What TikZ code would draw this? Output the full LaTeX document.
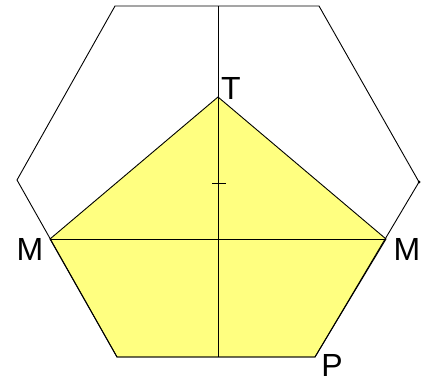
\documentclass[tikz,border=0pt]{standalone}
\usepackage{fontspec}
\setmainfont{Liberation Sans}
\definecolor{penta}{RGB}{255,255,128}
\begin{document}
\begin{tikzpicture}[x=1pt,y=-1pt,
  edge/.style={line width=0.9pt,black},
  lbl/.style={font=\fontsize{32}{32}\selectfont,inner sep=0pt,text depth=0pt}]
\useasboundingbox (0,0) rectangle (425,383);
% hexagon vertices
\coordinate (H1) at (115,6);
\coordinate (H2) at (319,6);
\coordinate (H3) at (419,182);
\coordinate (H4) at (315,357);
\coordinate (H5) at (117,357);
\coordinate (H6) at (17,180);
% pentagon
\coordinate (T) at (218,97);
\coordinate (ML) at (50,239);
\coordinate (MR) at (386,239);
\coordinate (BL) at (117,357);
\coordinate (P) at (315,357);
% axis
\coordinate (top) at (218,6);
\coordinate (bot) at (218,357);
\coordinate (tick1) at (212,183);
\coordinate (tick2) at (226,183);
\fill[penta] (T) -- (MR) -- (P) -- (BL) -- (ML) -- cycle;
\draw[edge] (H1) -- (H2) -- (H3) -- (H4) -- (H5) -- (H6) -- cycle;
\draw[edge] (T) -- (MR) -- (P) -- (BL) -- (ML) -- cycle;
\draw[edge] (ML) -- (MR);
\draw[edge] (top) -- (bot);
\draw[edge] (tick1) -- (tick2);
\fill (H3) circle (1.5);
\node[lbl] (lT) at (231,88) {T};
\node[lbl] (lML) at (30,249) {M};
\node[lbl] (lMR) at (407,249) {M};
\node[lbl,anchor=base] (lP) at (332,376) {P};
\end{tikzpicture}
\end{document}
